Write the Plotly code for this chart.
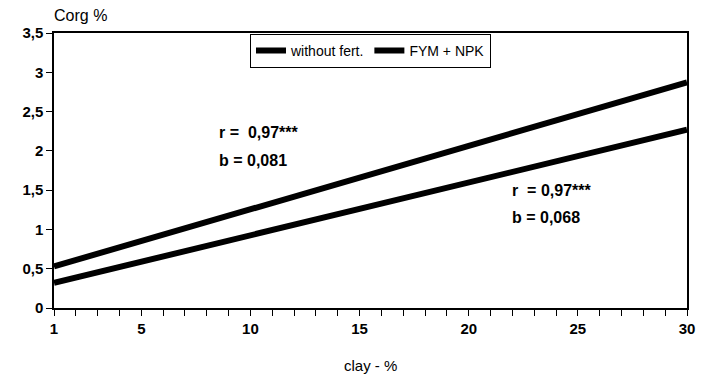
import plotly.graph_objects as go

clay = [1, 30]
without_fert = [0.32, 2.27]
fym_npk = [0.53, 2.87]

x_tick_vals = list(range(1, 31))
x_tick_text = ["<b>%d</b>" % v if v in (1, 5, 10, 15, 20, 25, 30) else "" for v in x_tick_vals]
y_tick_vals = [0, 0.5, 1, 1.5, 2, 2.5, 3, 3.5]
y_tick_text = ["<b>0</b>", "<b>0,5</b>", "<b>1</b>", "<b>1,5</b>", "<b>2</b>", "<b>2,5</b>", "<b>3</b>", "<b>3,5</b>"]

FONT = "Liberation Sans, Arial, sans-serif"

fig = go.Figure()
fig.add_trace(go.Scatter(x=clay, y=without_fert, mode="lines", name="without fert.",
                         line=dict(color="black", width=6)))
fig.add_trace(go.Scatter(x=clay, y=fym_npk, mode="lines", name="FYM + NPK",
                         line=dict(color="black", width=6)))

ann = [
    dict(x=8.45, y=2.24, text="<b>r =  0,97***</b>"),
    dict(x=8.45, y=1.88, text="<b>b = 0,081</b>"),
    dict(x=21.9, y=1.50, text="<b>r  = 0,97***</b>"),
    dict(x=21.9, y=1.15, text="<b>b = 0,068</b>"),
]
annotations = [dict(xref="x", yref="y", xanchor="left", yanchor="middle", showarrow=False,
                    font=dict(family=FONT, size=16, color="black"), **a) for a in ann]
annotations.append(dict(xref="paper", yref="paper", x=-0.003, y=1.0, yshift=18, xanchor="left",
                        yanchor="middle", showarrow=False, text="Corg %",
                        font=dict(family=FONT, size=16, color="black")))
annotations.append(dict(xref="paper", yref="paper", x=0.5, y=0, yshift=-57, xanchor="center",
                        yanchor="middle", showarrow=False, text="clay - %",
                        font=dict(family=FONT, size=15, color="black")))

fig.update_layout(
    width=707, height=376,
    margin=dict(l=54, r=14, t=33, b=68),
    paper_bgcolor="white", plot_bgcolor="white",
    font=dict(family=FONT, color="black"),
    showlegend=True,
    legend=dict(orientation="h", x=0.5, xanchor="center", y=0.997, yanchor="top",
                bordercolor="black", borderwidth=1, bgcolor="white",
                font=dict(family=FONT, size=14, color="black"),
                itemwidth=30, tracegroupgap=0),
    annotations=annotations,
)
fig.update_xaxes(range=[1, 30], tickvals=x_tick_vals, ticktext=x_tick_text,
                 ticks="outside", ticklen=6, tickwidth=1, tickcolor="black",
                 showline=True, linecolor="black", linewidth=1.5, mirror=True,
                 showgrid=False, zeroline=False,
                 tickfont=dict(family=FONT, size=15, color="black"))
fig.update_yaxes(range=[0, 3.5], tickvals=y_tick_vals, ticktext=y_tick_text,
                 ticks="outside", ticklen=6, tickwidth=1, tickcolor="black",
                 showline=True, linecolor="black", linewidth=1.5, mirror=True,
                 showgrid=False, zeroline=False,
                 tickfont=dict(family=FONT, size=15, color="black"))

fig.write_html("out.html")
